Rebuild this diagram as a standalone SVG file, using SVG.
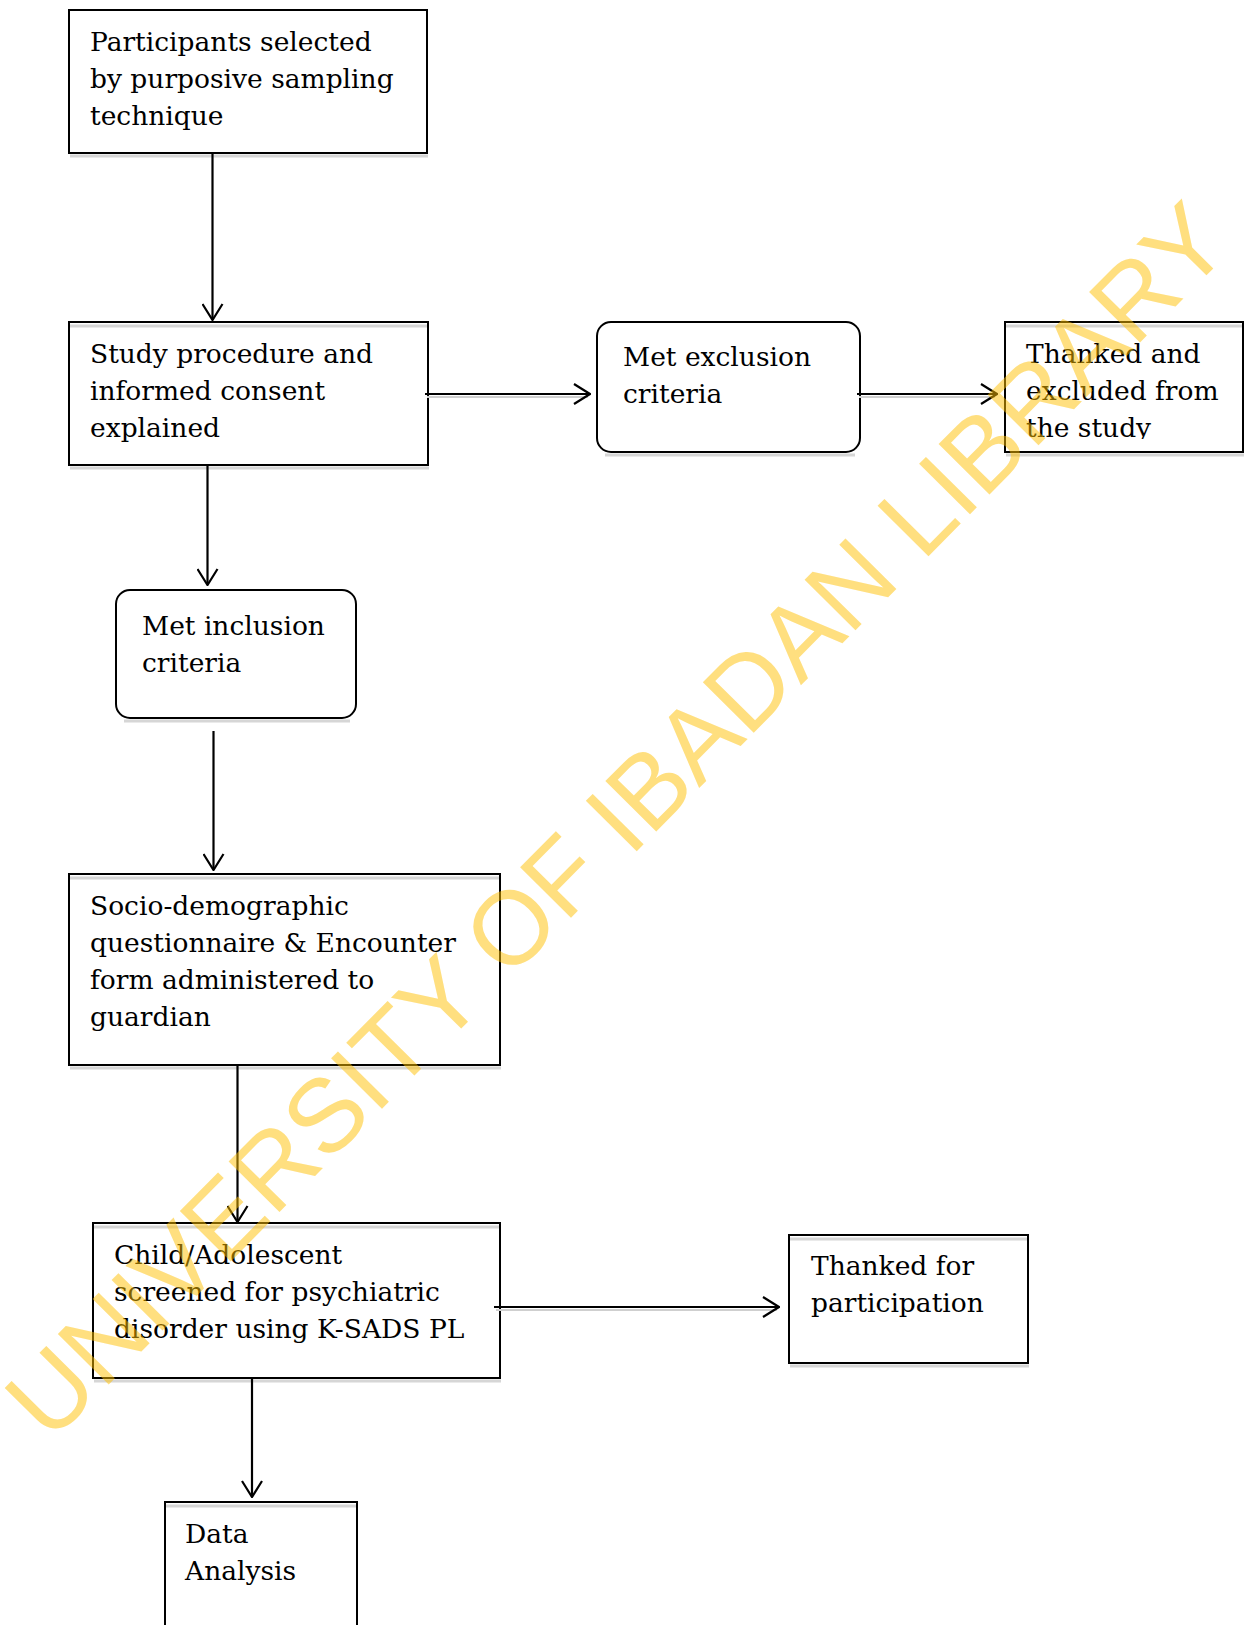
<svg xmlns="http://www.w3.org/2000/svg" width="1244" height="1625" viewBox="0 0 1244 1625">
<style>
.box{fill:none;stroke:#000;stroke-width:2}
.sh{fill:none;stroke:#d6d6d6;stroke-width:3}
.t{font-family:"DejaVu Serif","Liberation Serif",serif;font-size:26.5px;fill:#000}
.c{fill:none;stroke:#000;stroke-width:2.2}
.csh{fill:none;stroke:#cfcfcf;stroke-width:2}
.wm{font-family:"Liberation Sans",Arial,sans-serif;font-size:104px;fill:#FFC000;fill-opacity:0.5}
</style>
<defs>
<marker id="arr" viewBox="0 0 18 22" refX="17" refY="11" markerWidth="18" markerHeight="22" orient="auto" markerUnits="userSpaceOnUse">
<path d="M1,1 L17,11 L1,21" fill="none" stroke="#000" stroke-width="2.2"/>
</marker>
<clipPath id="clip4"><rect x="1005" y="322" width="239" height="117"/></clipPath>
</defs>
<rect width="1244" height="1625" fill="#fff"/>

<g id="n1">
<line class="sh" x1="70" y1="156" x2="428" y2="156"/>
<rect class="box" x="69" y="10" width="358" height="143"/>
<text class="t" x="90" y="51">Participants selected</text>
<text class="t" x="90" y="88">by purposive sampling</text>
<text class="t" x="90" y="125">technique</text>
</g>

<g id="n2">
<line class="sh" x1="70" y1="326" x2="427" y2="326"/>
<line class="sh" x1="70" y1="468" x2="429" y2="468"/>
<rect class="box" x="69" y="322" width="359" height="143"/>
<text class="t" x="90" y="363">Study procedure and</text>
<text class="t" x="90" y="400">informed consent</text>
<text class="t" x="90" y="437">explained</text>
</g>

<g id="n3">
<line class="sh" x1="605" y1="455" x2="855" y2="455"/>
<rect class="box" x="597" y="322" width="263" height="130" rx="14" ry="14"/>
<text class="t" x="623" y="366">Met exclusion</text>
<text class="t" x="623" y="403">criteria</text>
</g>

<g id="n4">
<line class="sh" x1="1006" y1="326" x2="1244" y2="326"/>
<line class="sh" x1="1006" y1="455" x2="1244" y2="455"/>
<rect class="box" x="1005" y="322" width="238" height="130"/>
<g clip-path="url(#clip4)">
<text class="t" x="1026" y="363">Thanked and</text>
<text class="t" x="1026" y="400">excluded from</text>
<text class="t" x="1026" y="437">the study</text>
</g>
</g>

<g id="n5">
<line class="sh" x1="124" y1="721" x2="350" y2="721"/>
<rect class="box" x="116" y="590" width="240" height="128" rx="14" ry="14"/>
<text class="t" x="142" y="635">Met inclusion</text>
<text class="t" x="142" y="672">criteria</text>
</g>

<g id="n6">
<line class="sh" x1="70" y1="878" x2="499" y2="878"/>
<line class="sh" x1="70" y1="1068" x2="501" y2="1068"/>
<rect class="box" x="69" y="874" width="431" height="191"/>
<text class="t" x="90" y="915">Socio-demographic</text>
<text class="t" x="90" y="952">questionnaire &amp; Encounter</text>
<text class="t" x="90" y="989">form administered to</text>
<text class="t" x="90" y="1026">guardian</text>
</g>

<g id="n7">
<line class="sh" x1="94" y1="1227" x2="499" y2="1227"/>
<line class="sh" x1="94" y1="1381" x2="501" y2="1381"/>
<rect class="box" x="93" y="1223" width="407" height="155"/>
<text class="t" x="114" y="1264">Child/Adolescent</text>
<text class="t" x="114" y="1301">screened for psychiatric</text>
<text class="t" x="114" y="1338">disorder using K-SADS PL</text>
</g>

<g id="n8">
<line class="sh" x1="790" y1="1239" x2="1027" y2="1239"/>
<line class="sh" x1="790" y1="1366" x2="1029" y2="1366"/>
<rect class="box" x="789" y="1235" width="239" height="128"/>
<text class="t" x="811" y="1275">Thanked for</text>
<text class="t" x="811" y="1312">participation</text>
</g>

<g id="n9">
<line class="sh" x1="166" y1="1506" x2="356" y2="1506"/>
<path class="box" d="M165,1630 L165,1502 L357,1502 L357,1630"/>
<text class="t" x="185" y="1543">Data</text>
<text class="t" x="185" y="1580">Analysis</text>
</g>

<g id="connectors">
<line class="csh" x1="427" y1="397" x2="588" y2="397"/>
<line class="csh" x1="859" y1="397" x2="995" y2="397"/>
<line class="csh" x1="496" y1="1310" x2="777" y2="1310"/>
<line class="c" x1="212.5" y1="153" x2="212.5" y2="320" marker-end="url(#arr)"/>
<line class="c" x1="207.5" y1="465" x2="207.5" y2="585" marker-end="url(#arr)"/>
<line class="c" x1="213.5" y1="731" x2="213.5" y2="870" marker-end="url(#arr)"/>
<line class="c" x1="237.5" y1="1065" x2="237.5" y2="1222" marker-end="url(#arr)"/>
<line class="c" x1="252" y1="1378" x2="252" y2="1497" marker-end="url(#arr)"/>
<line class="c" x1="425" y1="394" x2="590" y2="394" marker-end="url(#arr)"/>
<line class="c" x1="857" y1="394" x2="997" y2="394" marker-end="url(#arr)"/>
<line class="c" x1="494" y1="1307" x2="779" y2="1307" marker-end="url(#arr)"/>
</g>

<text class="wm" x="50" y="1444" transform="rotate(-45.3 50 1444)">UNIVERSITY OF IBADAN LIBRARY</text>
</svg>
